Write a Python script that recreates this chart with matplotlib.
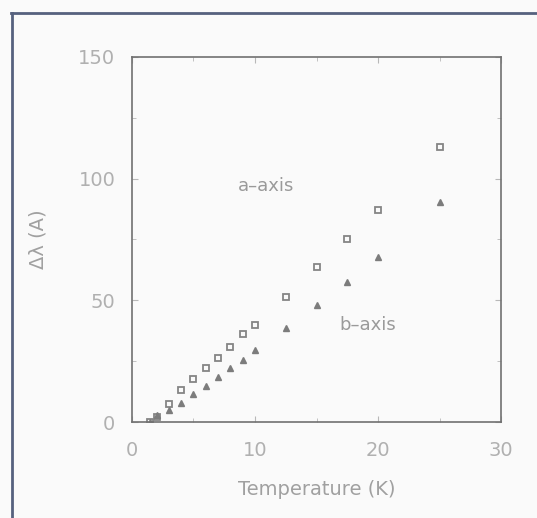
import matplotlib
matplotlib.use('Agg')
import matplotlib.pyplot as plt
from matplotlib.lines import Line2D
from matplotlib.ticker import MultipleLocator

# temperature (K) and penetration depth change (A)
temp = [1.5, 2, 3, 4, 5, 6, 7, 8, 9, 10, 12.5, 15, 17.5, 20, 25]
a_axis = [0, 2, 7.5, 13, 17.5, 22, 26.5, 31, 36, 40, 51.5, 63.5, 75, 87, 113]
b_axis = [0, 3, 5, 8, 11.5, 15, 18.5, 22, 25.5, 29.5, 38.5, 48, 57.5, 68, 90.5]

fig = plt.figure(figsize=(5.37, 5.18), dpi=100, facecolor='#fafafa')
ax = fig.add_axes([0.2458, 0.1853, 0.6872, 0.7047])
ax.set_facecolor('#fafafa')

ax.plot(temp, a_axis, linestyle='none', marker='s', markersize=4.5,
        markerfacecolor='none', markeredgecolor='#858585', markeredgewidth=1.3)
ax.plot(temp, b_axis, linestyle='none', marker='^', markersize=5,
        color='#7c7c7c')

ax.text(10.9, 97, 'a\u2013axis', fontsize=13, color='#9a9a9a', ha='center', va='center')
ax.text(19.2, 40, 'b\u2013axis', fontsize=13, color='#9a9a9a', ha='center', va='center')

ax.set_xlim(0, 30)
ax.set_ylim(0, 150)
ax.xaxis.set_major_locator(MultipleLocator(10))
ax.xaxis.set_minor_locator(MultipleLocator(5))
ax.yaxis.set_major_locator(MultipleLocator(50))
ax.yaxis.set_minor_locator(MultipleLocator(25))
ax.tick_params(which='both', direction='in', top=True, right=True,
               color='#b8b8b8', labelcolor='#b0b0b0', labelsize=14)
ax.tick_params(axis='x', which='major', pad=14, length=4)
ax.tick_params(axis='y', which='major', pad=12, length=4)
ax.tick_params(which='minor', length=3)
for s in ax.spines.values():
    s.set_color('#707070')
    s.set_linewidth(1.2)

ax.set_xlabel('Temperature (K)', fontsize=14, color='#a0a0a0', labelpad=14)
ax.set_ylabel('\u0394\u03bb (A)', fontsize=14, color='#a0a0a0', labelpad=22)

# scan frame on the left and top
fig.add_artist(Line2D([12 / 537, 12 / 537], [0, 1 - 13 / 518], transform=fig.transFigure,
                      color='#56617e', linewidth=2))
fig.add_artist(Line2D([11 / 537, 1], [1 - 13 / 518, 1 - 13 / 518], transform=fig.transFigure,
                      color='#56617e', linewidth=2))

fig.savefig('out.png', dpi=100, facecolor=fig.get_facecolor())
